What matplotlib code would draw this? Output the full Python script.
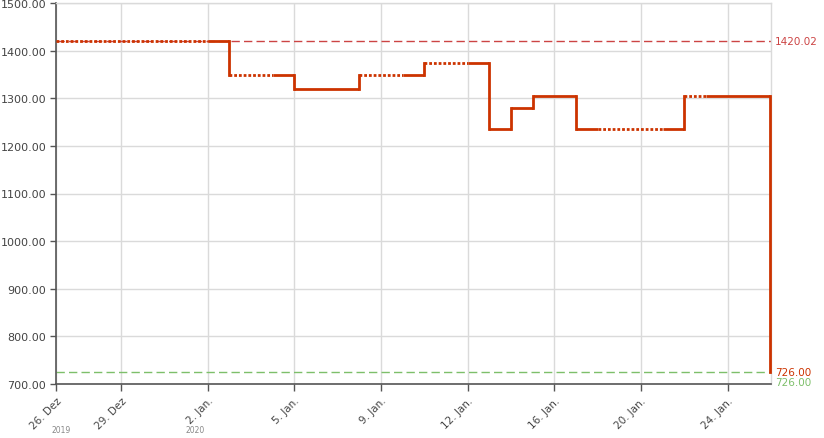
import matplotlib
matplotlib.use("Agg")
import matplotlib.pyplot as plt

# ---- data ----
tick_days = [0, 3, 7, 11, 15, 19, 23, 27, 31]
tick_labels = ["26. Dez", "29. Dez", "2. Jan.", "5. Jan.", "9. Jan.", "12. Jan.",
               "16. Jan.", "20. Jan.", "24. Jan."]
year_days = [-0.2, 6]
year_labels = ["2019", "2020"]

y_ticks = [700, 800, 900, 1000, 1100, 1200, 1300, 1400, 1500]

step_days = [0, 7, 8, 10, 11, 14, 16, 17, 19, 20, 21, 22, 24, 25, 28, 29, 30, 32.95]
step_prices = [1420, 1420, 1348, 1348, 1320, 1348, 1348, 1375, 1375, 1235,
               1280, 1305, 1235, 1235, 1235, 1305, 1305, 726]
segment_observed = [False, True, False, True, True, False, True, False, True,
                    True, True, True, True, False, True, False, True]

max_price = 1420.02
min_price = 726.00

# ---- style ----
line_color = "#cc3300"
max_color = "#cc4444"
min_color = "#7dbf6a"
grid_color = "#dadada"
text_color = "#444444"

fig = plt.figure(figsize=(8.24, 4.39), dpi=100)
ax = fig.add_axes([56/824, 54/439, (771-56)/824, (385-4)/439])

ax.set_xlim(0, 33)
ax.set_ylim(700, 1500)

# reference lines
ax.axhline(max_price, color=max_color, lw=1, ls=(0, (6, 3)), zorder=2)
ax.axhline(min_price, color=min_color, lw=1, ls=(0, (6, 3)), zorder=2)

# step line
for i in range(len(step_days) - 1):
    x0, x1 = step_days[i], step_days[i + 1]
    p0, p1 = step_prices[i], step_prices[i + 1]
    ls = "-" if segment_observed[i] else (0, (1, 0.7))
    ax.plot([x0, x1], [p0, p0], color=line_color, lw=2, ls=ls,
            solid_capstyle="butt", dash_capstyle="butt", zorder=4, clip_on=False)
    if p1 != p0:
        ax.plot([x1, x1], [p0, p1], color=line_color, lw=2, ls="-",
                solid_capstyle="projecting", zorder=4, clip_on=False)

# right-side labels
ax.text(1.006, max_price, f"{max_price:.2f}", transform=ax.get_yaxis_transform(),
        color=max_color, fontsize=7.5, va="center", ha="left")
ax.text(1.006, min_price, f"{min_price:.2f}", transform=ax.get_yaxis_transform(),
        color=line_color, fontsize=7.5, va="center", ha="left")
ax.text(1.006, min_price - 21, f"{min_price:.2f}", transform=ax.get_yaxis_transform(),
        color=min_color, fontsize=7.5, va="center", ha="left")

# axes styling
ax.set_xticks(tick_days)
ax.set_xticklabels(tick_labels, rotation=45, ha="right", rotation_mode="anchor",
                   fontsize=7.5, color=text_color)
ax.set_yticks(y_ticks)
ax.set_yticklabels([f"{v:.2f}" for v in y_ticks], fontsize=8, color=text_color)
ax.tick_params(axis="x", length=5, width=1, color="#555555", pad=3)
ax.tick_params(axis="y", length=4, width=1, color="#555555", pad=3)
ax.grid(True, color=grid_color, lw=1, zorder=0)
ax.set_axisbelow(True)

for side in ["top", "right"]:
    ax.spines[side].set_color(grid_color)
    ax.spines[side].set_linewidth(1)
for side in ["left", "bottom"]:
    ax.spines[side].set_color("#555555")
    ax.spines[side].set_linewidth(1.2)

for d, lab in zip(year_days, year_labels):
    ax.text(d, -0.12, lab, transform=ax.get_xaxis_transform(), fontsize=5.5,
            color="#888888", ha="left", va="center")

fig.savefig("out.png", dpi=100)
